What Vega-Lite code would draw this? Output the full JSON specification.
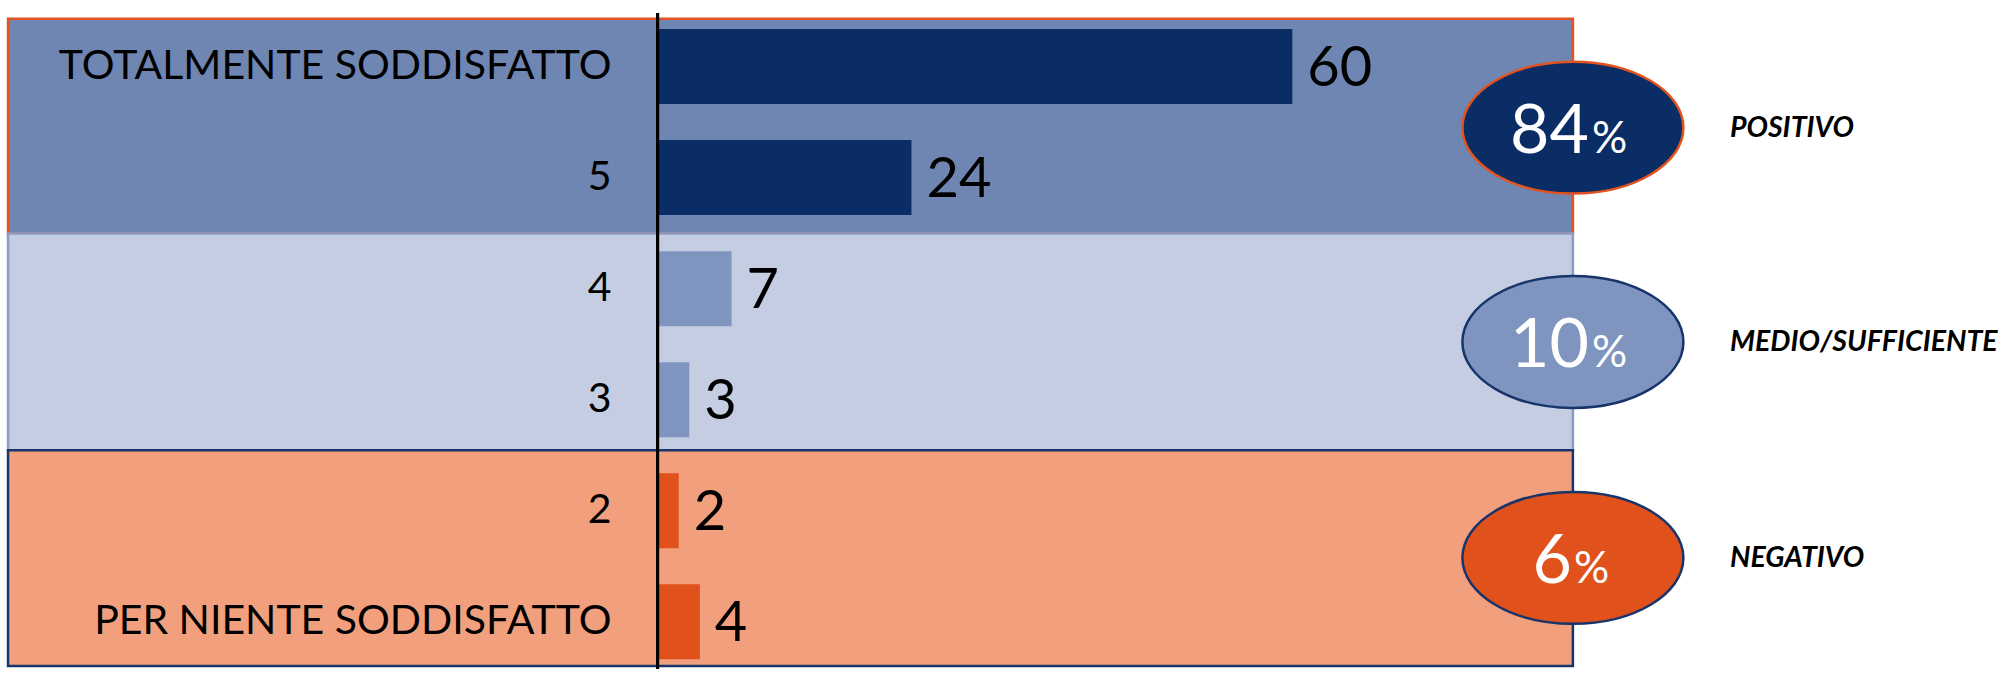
{
  "$schema": "https://vega.github.io/schema/vega-lite/v6.json",
  "width": 2009,
  "height": 674,
  "padding": 0,
  "autosize": {"type": "none"},
  "background": "#ffffff",
  "config": {"view": {"stroke": null}, "text": {"font": "Lato"}},
  "datasets": {
    "ratings": [
      {"label": "TOTALMENTE SODDISFATTO", "rating": 6, "count": 60, "group": "POSITIVO"},
      {"label": "5", "rating": 5, "count": 24, "group": "POSITIVO"},
      {"label": "4", "rating": 4, "count": 7, "group": "MEDIO/SUFFICIENTE"},
      {"label": "3", "rating": 3, "count": 3, "group": "MEDIO/SUFFICIENTE"},
      {"label": "2", "rating": 2, "count": 2, "group": "NEGATIVO"},
      {"label": "PER NIENTE SODDISFATTO", "rating": 1, "count": 4, "group": "NEGATIVO"}
    ],
    "groups": [
      {"group": "POSITIVO", "pct": 84, "hi": 6.43, "lo": 4.496, "mid": 5.45},
      {"group": "MEDIO/SUFFICIENTE", "pct": 10, "hi": 4.496, "lo": 2.544, "mid": 3.52},
      {"group": "NEGATIVO", "pct": 6, "hi": 2.544, "lo": 0.6007, "mid": 1.575}
    ]
  },
  "resolve": {"scale": {"fill": "independent", "stroke": "independent"}},
  "encoding": {
    "x": {"type": "quantitative", "scale": {"domain": [-62.15, 127.74], "nice": false, "zero": false}, "axis": null},
    "y": {"type": "quantitative", "scale": {"domain": [0.5741, 6.5546], "nice": false, "zero": false}, "axis": null}
  },
  "layer": [
    {
      "data": {"name": "groups"},
      "mark": {"type": "rect", "strokeWidth": 2.5},
      "encoding": {
        "x": {"datum": -61.39},
        "x2": {"datum": 86.52},
        "y": {"field": "hi"},
        "y2": {"field": "lo"},
        "fill": {"field": "group", "type": "nominal", "legend": null,
          "scale": {"domain": ["POSITIVO", "MEDIO/SUFFICIENTE", "NEGATIVO"], "range": ["#6f85b2", "#c4cde1", "#f29f7d"]}},
        "stroke": {"field": "group", "type": "nominal", "legend": null,
          "scale": {"domain": ["POSITIVO", "MEDIO/SUFFICIENTE", "NEGATIVO"], "range": ["#e2531f", "#8a9cc6", "#17346b"]}}
      }
    },
    {
      "data": {"name": "ratings"},
      "mark": {"type": "bar", "orient": "horizontal", "size": 75},
      "encoding": {
        "x": {"field": "count"},
        "y": {"field": "rating"},
        "color": {"field": "group", "type": "nominal", "legend": null,
          "scale": {"domain": ["POSITIVO", "MEDIO/SUFFICIENTE", "NEGATIVO"], "range": ["#0b2d66", "#7f95bf", "#e0511c"]}}
      }
    },
    {
      "data": {"name": "ratings"},
      "mark": {"type": "rule", "color": "#000000", "strokeWidth": 3},
      "encoding": {"x": {"datum": 0}, "y": {"datum": 6.4836}, "y2": {"datum": 0.5741}}
    },
    {
      "data": {"name": "ratings"},
      "mark": {"type": "text", "align": "right", "baseline": "middle", "dx": -46, "fontSize": 41, "color": "#000000"},
      "encoding": {"x": {"datum": 0}, "y": {"field": "rating"}, "text": {"field": "label"}}
    },
    {
      "data": {"name": "ratings"},
      "mark": {"type": "text", "align": "left", "baseline": "middle", "dx": 15, "dy": 2, "fontSize": 56, "color": "#000000"},
      "encoding": {"x": {"field": "count"}, "y": {"field": "rating"}, "text": {"field": "count"}}
    },
    {
      "data": {"name": "groups"},
      "mark": {"type": "point", "filled": true, "opacity": 1, "strokeWidth": 2.5,
        "shape": "M -1 0 C -1 -0.3297 -0.5523 -0.597 0 -0.597 C 0.5523 -0.597 1 -0.3297 1 0 C 1 0.3297 0.5523 0.597 0 0.597 C -0.5523 0.597 -1 0.3297 -1 0 Z",
        "size": 48841},
      "encoding": {
        "x": {"datum": 86.52},
        "y": {"field": "mid"},
        "fill": {"field": "group", "type": "nominal", "legend": null,
          "scale": {"domain": ["POSITIVO", "MEDIO/SUFFICIENTE", "NEGATIVO"], "range": ["#0b2d66", "#7f95bf", "#e0511c"]}},
        "stroke": {"field": "group", "type": "nominal", "legend": null,
          "scale": {"domain": ["POSITIVO", "MEDIO/SUFFICIENTE", "NEGATIVO"], "range": ["#e2531f", "#17346b", "#17346b"]}}
      }
    },
    {
      "data": {"name": "groups"},
      "transform": [{"filter": "datum.pct >= 10"}],
      "mark": {"type": "text", "align": "right", "baseline": "alphabetic", "dx": 16, "dy": 25, "fontSize": 68, "color": "#ffffff"},
      "encoding": {"x": {"datum": 86.52}, "y": {"field": "mid"}, "text": {"field": "pct"}}
    },
    {
      "data": {"name": "groups"},
      "transform": [{"filter": "datum.pct >= 10"}],
      "mark": {"type": "text", "align": "left", "baseline": "alphabetic", "dx": 19, "dy": 25, "fontSize": 44, "color": "#ffffff", "text": "%"},
      "encoding": {"x": {"datum": 86.52}, "y": {"field": "mid"}}
    },
    {
      "data": {"name": "groups"},
      "transform": [{"filter": "datum.pct < 10"}],
      "mark": {"type": "text", "align": "right", "baseline": "alphabetic", "dx": -1, "dy": 25, "fontSize": 68, "color": "#ffffff"},
      "encoding": {"x": {"datum": 86.52}, "y": {"field": "mid"}, "text": {"field": "pct"}}
    },
    {
      "data": {"name": "groups"},
      "transform": [{"filter": "datum.pct < 10"}],
      "mark": {"type": "text", "align": "left", "baseline": "alphabetic", "dx": 1, "dy": 25, "fontSize": 44, "color": "#ffffff", "text": "%"},
      "encoding": {"x": {"datum": 86.52}, "y": {"field": "mid"}}
    },
    {
      "data": {"name": "groups"},
      "mark": {"type": "text", "align": "left", "baseline": "middle", "fontSize": 28.5, "fontWeight": "bold", "fontStyle": "italic", "color": "#000000"},
      "encoding": {"x": {"datum": 101.37}, "y": {"field": "mid"}, "text": {"field": "group"}}
    }
  ]
}
